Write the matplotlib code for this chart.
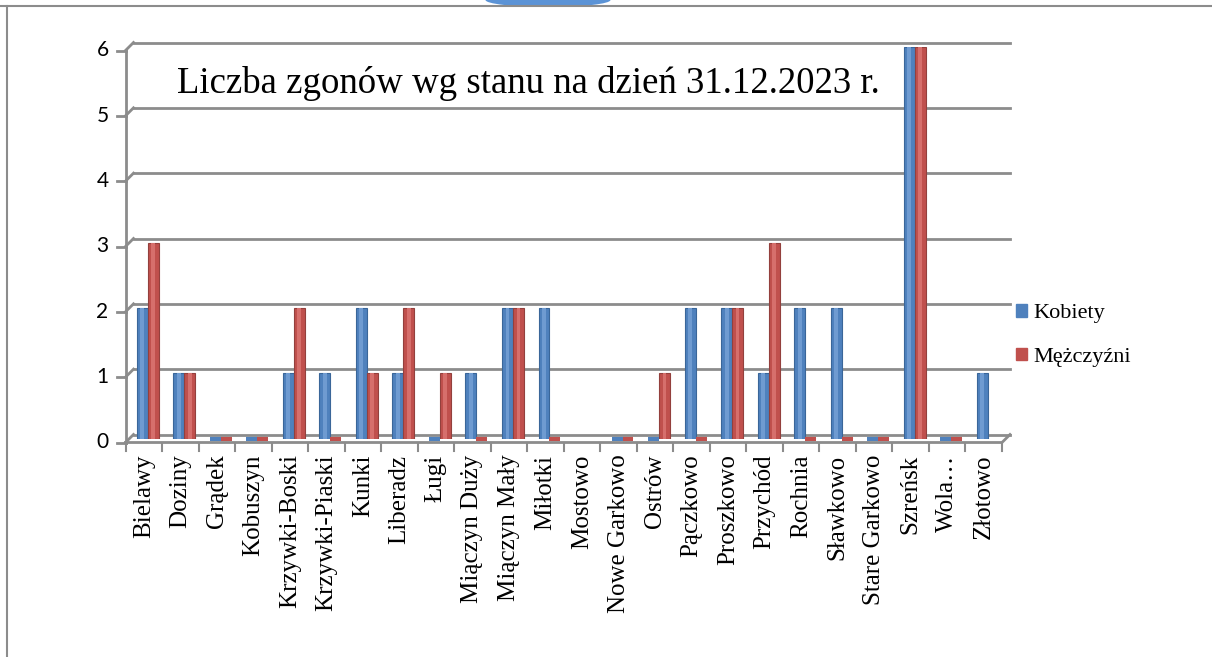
import matplotlib
matplotlib.use("Agg")
import matplotlib.pyplot as plt
import matplotlib.transforms as mtransforms
from matplotlib.patches import Ellipse
import numpy as np

# data
villages = ["Bielawy", "Doziny", "Grądek", "Kobuszyn", "Krzywki-Boski",
            "Krzywki-Piaski", "Kunki", "Liberadz", "Ługi", "Miączyn Duży",
            "Miączyn Mały", "Miłotki", "Mostowo", "Nowe Garkowo", "Ostrów",
            "Pączkowo", "Proszkowo", "Przychód", "Rochnia", "Sławkowo",
            "Stare Garkowo", "Szreńsk", "Wola…", "Złotowo"]
kobiety = [2, 1, 0, 0, 1, 1, 2, 1, 0, 1, 2, 2, np.nan, 0, 0, 2, 2, 1, 2, 2, 0, 6, 0, 1]
mezczyzni = [3, 1, 0, 0, 2, 0, 1, 2, 1, 0, 2, 0, np.nan, 0, 1, 0, 2, 3, 0, 0, 0, 6, 0, np.nan]
y_ticks = [0, 1, 2, 3, 4, 5, 6]
title = "Liczba zgonów wg stanu na dzień 31.12.2023 r."

blue = "#4F81BD"
red = "#C0504D"
grid_c = "#8C8C8C"
serif = "Liberation Serif"

W, H = 1212, 657
fig = plt.figure(figsize=(W / 100, H / 100), dpi=100)

# outer frame of the chart object (top + left edge visible)
fig.add_artist(plt.Line2D([0, 1], [1 - 6 / H, 1 - 6 / H], transform=fig.transFigure,
                          color="#8C8C8C", lw=1.5))
fig.add_artist(plt.Line2D([7 / W, 7 / W], [0, 1 - 6 / H], transform=fig.transFigure,
                          color="#8C8C8C", lw=1.5))
# clipped blue shape at the top
fig.add_artist(Ellipse((548 / W, 1 - 0 / H), 125 / W, 14 / H, transform=fig.transFigure,
                       facecolor="#5B93D6", edgecolor="none", zorder=0))

# axes = mid-depth plane of the pseudo-3D plot
left, right = 129.5, 1006
y0, y6 = 438.5, 46.5
ax = fig.add_axes([left / W, 1 - y0 / H, (right - left) / W, (y0 - y6) / H])
ax.set_xlim(-0.5, len(villages) - 0.5)
ax.set_ylim(0, 6)
for s in ax.spines.values():
    s.set_visible(False)
ax.set_xticks([])
ax.set_yticks([])
ax.patch.set_alpha(0)

d = 4  # depth offset in pixels
back = ax.transData + mtransforms.ScaledTranslation(d / 100, d / 100, fig.dpi_scale_trans)
lw = 2.0

xl = ax.get_xlim()
for v in y_ticks:
    ax.plot(xl, [v, v], color=grid_c, lw=lw, transform=back, clip_on=False, zorder=1)


def px(x, y):
    return fig.transFigure.inverted().transform((x, H - y))


# left diagonals, tick marks and tick labels
for v in y_ticks:
    yb = y0 - v * (y0 - y6) / 6
    x1, yy1 = px(left - d, yb + d)
    x2, yy2 = px(left + d, yb - d)
    x3, _ = px(left - d - 9, yb + d)
    fig.add_artist(plt.Line2D([x1, x2], [yy1, yy2], color=grid_c, lw=lw, transform=fig.transFigure))
    fig.add_artist(plt.Line2D([x3, x1], [yy1, yy1], color=grid_c, lw=lw, transform=fig.transFigure))
    tx, ty = px(left - d - 17, yb + d)
    fig.text(tx, ty, str(v), ha="right", va="center", fontsize=15, family="Lato")

# front left axis
a1 = px(left - d, y6 + d)
a2 = px(left - d, y0 + d)
fig.add_artist(plt.Line2D([a1[0], a2[0]], [a1[1], a2[1]], color=grid_c, lw=lw, transform=fig.transFigure))
# floor front edge and right diagonal
f1 = px(left - d, y0 + d)
f2 = px(right - d, y0 + d)
f3 = px(right + d, y0 - d)
fig.add_artist(plt.Line2D([f1[0], f2[0], f3[0]], [f1[1], f2[1], f3[1]], color=grid_c, lw=lw,
                          transform=fig.transFigure))
# category ticks on the floor front edge
step = (right - left) / len(villages)
for i in range(len(villages) + 1):
    xt = left - d + i * step
    p1 = px(xt, y0 + d)
    p2 = px(xt, y0 + d + 8)
    fig.add_artist(plt.Line2D([p1[0], p2[0]], [p1[1], p2[1]], color=grid_c, lw=1.5,
                              transform=fig.transFigure))

# bars
x = np.arange(len(villages))
bw = 0.3
k = np.array(kobiety, dtype=float)
m = np.array(mezczyzni, dtype=float)
ax.bar(x - bw / 2, k, bw, color=blue, edgecolor="#3A6699", linewidth=0.8, zorder=3)
ax.bar(x + bw / 2, m, bw, color=red, edgecolor="#93403D", linewidth=0.8, zorder=3)
# cylinder highlight
ax.bar(x - bw / 2, k, bw * 0.35, color="#6F9BD1", linewidth=0, zorder=4)
ax.bar(x + bw / 2, m, bw * 0.35, color="#D66F6C", linewidth=0, zorder=4)
# zero-height bars still show as flat discs
zk = x[k == 0]
zm = x[m == 0]
ax.hlines(k[k == 0], zk - bw, zk, color=blue, lw=3, zorder=4, clip_on=False)
ax.hlines(m[m == 0], zm, zm + bw, color=red, lw=3, zorder=4, clip_on=False)

# category labels
for i, name in enumerate(villages):
    lx, ly = px(left - d + (i + 0.5) * step, y0 + d + 12)
    fig.text(lx, ly, name, rotation=90, ha="center", va="top", fontsize=18, family=serif)

ax.text((528 - left) / (right - left), 0.905, title, transform=ax.transAxes, ha="center",
        va="center", fontsize=26.5, family=serif, zorder=5)

h = [plt.Rectangle((0, 0), 1, 1, color=blue), plt.Rectangle((0, 0), 1, 1, color=red)]
fig.legend(h, ["Kobiety", "Mężczyźni"], loc="center left",
           bbox_to_anchor=(1016 / W, 1 - 335.5 / H), frameon=False,
           prop={"family": serif, "size": 16}, handlelength=0.5, handleheight=0.5,
           handletextpad=0.3, labelspacing=1.1, borderpad=0, borderaxespad=0)

fig.savefig("out.png", dpi=100)
